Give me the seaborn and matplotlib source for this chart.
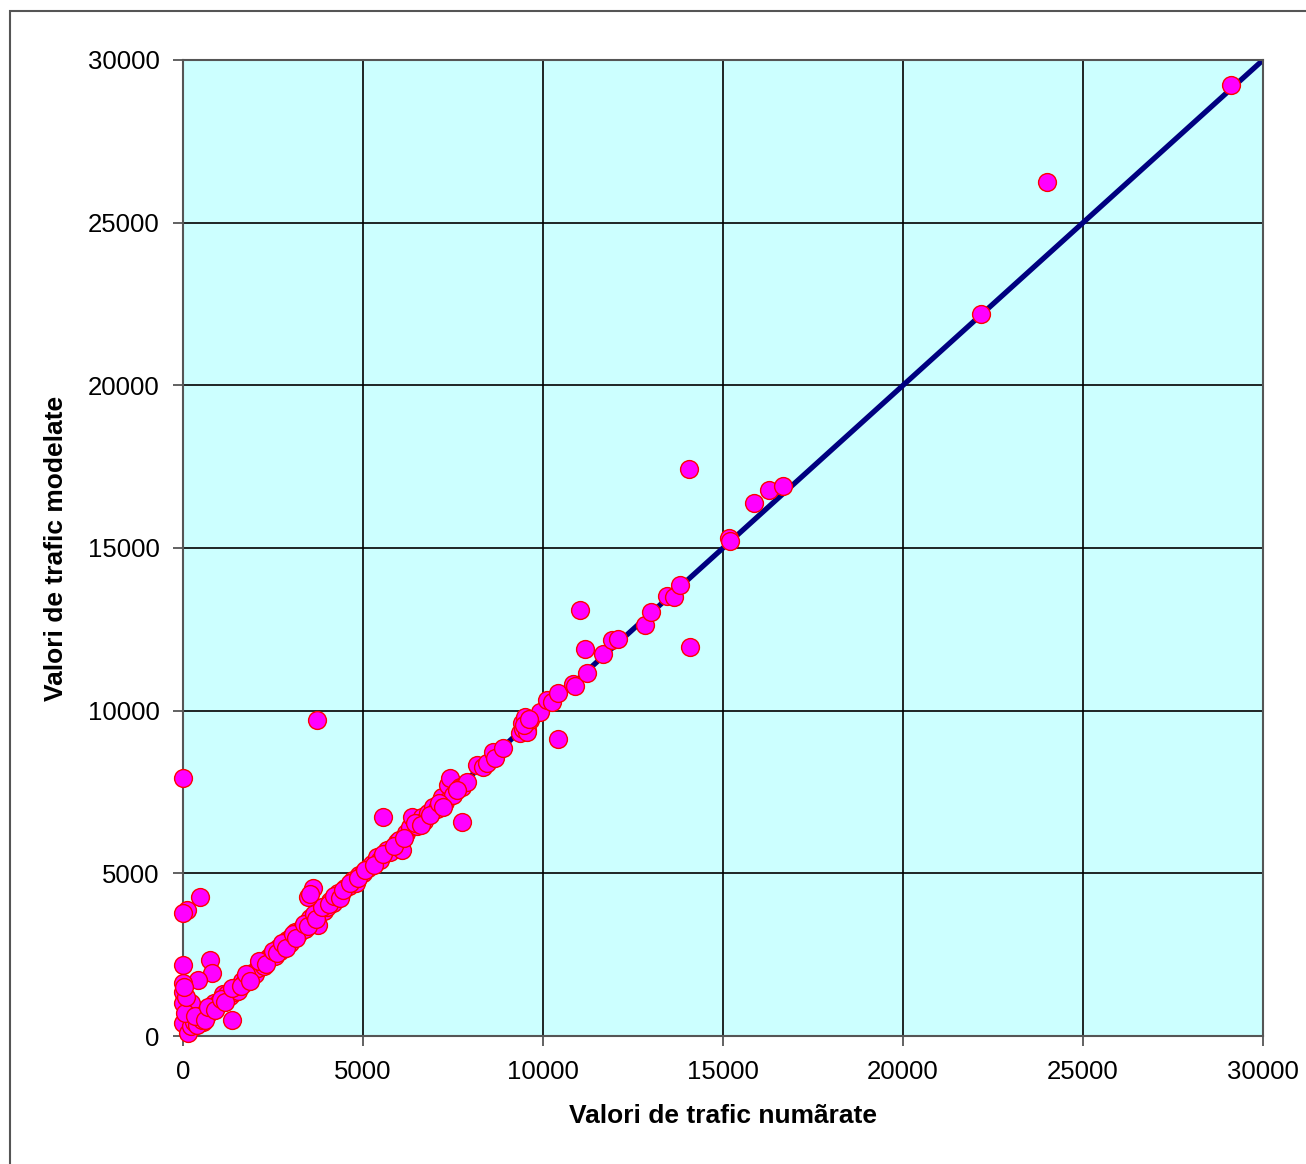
import matplotlib
matplotlib.use("Agg")
import matplotlib.pyplot as plt
import seaborn as sns
import pandas as pd
from matplotlib.patches import Rectangle

# ---- data -------------------------------------------------------------
counted = [
    0, 110, 470, 0, 750, 800, 420, 0, 0, 0, 140, 0, 0, 1360, 560, 390, 220,
    150, 230, 300, 380, 450, 520, 600, 680, 760, 860, 930, 1000, 1110, 1150,
    1230, 1300, 1440, 1500, 1540, 1650, 1700, 1800, 1920, 2000, 2080, 2190,
    2250, 2350, 2450, 2550, 2650, 2700, 2800, 2900, 2970, 3000, 3100, 3200,
    3300, 3400, 3450, 3530, 3600, 3750, 3800, 3920, 4000, 4080, 4160, 4310,
    4400, 4500, 4600, 4720, 4800, 4900, 5000, 5140, 5250, 5390, 5480, 5670,
    5750, 5940, 6000, 6080, 6200, 6310, 6360, 6500, 6640, 6700, 6800, 6940,
    7050, 7190, 7280, 7360, 7420, 7500, 7690, 7750, 7900, 8170, 8330, 8450,
    8610, 8670, 8890, 9360, 9420, 9440, 9500, 9560, 9560, 9650, 9920, 10110,
    10250, 10420, 10830, 10900, 11220, 11670, 11920, 12080, 12830, 13000,
    13440, 13640, 13810, 15170, 15200, 15860, 16280, 16670, 22170,
    # extra band points
    60, 90, 40, 330, 610, 700, 900, 1050, 1180, 1350, 1600, 1750, 1850,
    2120, 2300, 2500, 2600, 2750, 2850, 3050, 3150, 3350, 3480, 3650, 3700,
    3870, 4050, 4200, 4350, 4450, 4650, 4850, 5050, 5300, 5550, 5850, 6150,
    6450, 6600, 6850, 7100, 7230, 7600, 9480, 9620,
    # outliers
    3720, 3470, 3610, 3530, 5560, 7750, 10420, 11030, 11170, 14060, 14080,
    24000, 29110,
]
modelled = [
    7930, 3870, 4270, 3780, 2340, 1940, 1720, 2180, 1630, 1350, 1010, 1010,
    400, 490, 430, 550, 1010,
    90, 300, 420, 350, 620, 480, 700, 640, 820, 1010, 900, 1050, 1290, 1120,
    1280, 1230, 1350, 1520, 1380, 1700, 1620, 1800, 1940, 1900, 2100, 2240,
    2150, 2400, 2480, 2450, 2700, 2620, 2780, 2950, 2850, 3050, 3200, 3120,
    3330, 3300, 3500, 3630, 3550, 3410, 3800, 3850, 3970, 4150, 4100, 4400,
    4350, 4550, 4600, 4800, 4700, 4950, 5000, 5160, 5300, 5500, 5400, 5720,
    5650, 5960, 6030, 5720, 6250, 6420, 6730, 6450, 6730, 6600, 6850, 7040,
    6980, 7350, 7200, 7720, 7930, 7400, 7650, 7650, 7800, 8330, 8270, 8400,
    8730, 8550, 8850, 9310, 9620, 9450, 9810, 9410, 9350, 9700, 9960, 10330,
    10270, 10540, 10820, 10760, 11160, 11740, 12170, 12200, 12630, 13030,
    13530, 13500, 13860, 15310, 15230, 16380, 16780, 16910, 22190,
    # extra band points
    700, 1200, 1500, 600, 500, 900, 800, 1150, 1050, 1480, 1550, 1900, 1700,
    2300, 2200, 2600, 2550, 2850, 2700, 3150, 3000, 3450, 3380, 3750, 3600,
    3950, 4050, 4300, 4250, 4500, 4700, 4850, 5100, 5250, 5600, 5850, 6100,
    6550, 6500, 6800, 7150, 7050, 7550, 9550, 9750,
    # outliers
    9710, 4270, 4550, 4350, 6730, 6580, 9130, 13100, 11900, 17430, 11960,
    26250, 29230,
]
line_x = [0, 30000]
line_y = [0, 30000]
ticks = [0, 5000, 10000, 15000, 20000, 25000, 30000]
xlabel = "Valori de trafic numãrate"
ylabel = "Valori de trafic modelate"

df = pd.DataFrame({"x": counted, "y": modelled})
df_line = pd.DataFrame({"x": line_x, "y": line_y})

# ---- figure -----------------------------------------------------------
sns.set_theme(style="white")
plt.rcParams["font.family"] = ["Liberation Sans", "DejaVu Sans"]

fig = plt.figure(figsize=(13.06, 11.64), dpi=100)
fig.patch.set_facecolor("white")
ax = fig.add_axes([183 / 1306, 1 - 1036 / 1164, 1080 / 1306, 976 / 1164])
ax.set_facecolor("#CCFFFF")

# outer chart-area border
fig.patches.append(Rectangle((10 / 1306, -0.05), 1.2, 1 - 11 / 1164 + 0.05,
                             transform=fig.transFigure, fill=False,
                             edgecolor="#555555", linewidth=1.5, zorder=0))

sns.lineplot(data=df_line, x="x", y="y", ax=ax, color="#000080",
             linewidth=3.8, zorder=2, sort=False)
sns.scatterplot(data=df, x="x", y="y", ax=ax, s=165, color="#FF00FF",
                edgecolor="#FF0000", linewidth=1.0, zorder=3, clip_on=False)

ax.set_xlim(0, 30000)
ax.set_ylim(0, 30000)
ax.set_xticks(ticks)
ax.set_yticks(ticks)
ax.set_xticklabels([str(t) for t in ticks])
ax.set_yticklabels([str(t) for t in ticks])
ax.grid(True, color="black", linewidth=1.2)
ax.set_axisbelow(True)
for sp in ax.spines.values():
    sp.set_color("#555555")
    sp.set_linewidth(1.5)
ax.tick_params(axis="both", direction="out", length=7, width=1.3,
               color="#555555", labelsize=18.5, labelcolor="black", pad=10,
               left=True, bottom=True)
ax.set_xlabel(xlabel, fontsize=19, fontweight="bold", labelpad=15,
              color="black")
ax.set_ylabel(ylabel, fontsize=19, fontweight="bold", labelpad=14,
              color="black")

fig.savefig("out.png", dpi=100, facecolor="white")
